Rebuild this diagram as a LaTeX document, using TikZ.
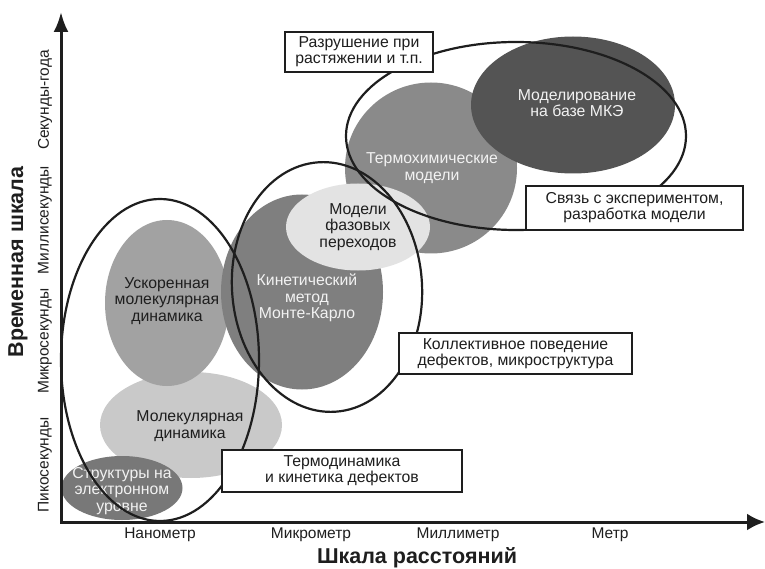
\documentclass[tikz,border=0pt]{standalone}
\usepackage{fontspec}
\setmainfont{Liberation Sans}
\usetikzlibrary{shapes.geometric,arrows.meta}

\definecolor{gElec}{HTML}{787878}
\definecolor{gMD}{HTML}{C9C9C9}
\definecolor{gAMD}{HTML}{A2A2A2}
\definecolor{gKMC}{HTML}{7F7F7F}
\definecolor{gPhase}{HTML}{E3E3E3}
\definecolor{gThermo}{HTML}{8A8A8A}
\definecolor{gFEM}{HTML}{545454}
\definecolor{ink}{HTML}{1E1E1E}
\definecolor{light}{HTML}{F2F2F2}

\tikzset{
  blob/.style={ellipse, draw=none, inner sep=0pt},
  ring/.style={ellipse, draw=ink, line width=2.2pt, inner sep=0pt},
  darktxt/.style={align=center, text=ink, inner sep=0pt,
    font=\fontsize{15.8}{16.5}\selectfont},
  lighttxt/.style={darktxt, text=light},
  tag/.style={draw=ink, fill=white, line width=1.2pt, inner sep=0pt,
    align=center, text=ink, font=\fontsize{15.8}{16}\selectfont},
  scaletxt/.style={text=ink, inner sep=0pt, font=\fontsize{15.5}{17}\selectfont},
  axistitle/.style={text=ink, inner sep=0pt, font=\bfseries\fontsize{21.5}{23}\selectfont},
  axis/.style={draw=ink, line width=3pt, line join=miter},
}

\begin{document}
\begin{tikzpicture}[x=1pt, y=-1pt]
\useasboundingbox (0,0) rectangle (765,569);

% filled model regions
\node[blob, fill=gMD, minimum width=182pt, minimum height=106pt] (md) at (191,425) {};
\node[blob, fill=gAMD, minimum width=124pt, minimum height=166pt] (amd) at (167,303) {};
\node[blob, fill=gElec, minimum width=121pt, minimum height=64pt] (elec) at (122,488) {};
\node[blob, fill=gKMC, minimum width=162pt, minimum height=195pt] (kmc) at (302,292) {};
\node[blob, fill=gThermo, minimum width=172pt, minimum height=171pt] (thermo) at (431,168) {};
\node[blob, fill=gPhase, minimum width=144pt, minimum height=87pt] (phase) at (358,227) {};
\node[blob, fill=gFEM, minimum width=204pt, minimum height=137pt] (fem) at (573,105) {};

% region labels
\node[darktxt] (md-t) at (190,426) {Молекулярная\\динамика};
\node[darktxt] (amd-t) at (167,301) {Ускоренная\\молекулярная\\динамика};
\node[lighttxt] (elec-t) at (122,491) {Структуры на\\электронном\\уровне};
\node[lighttxt] (kmc-t) at (307,298) {Кинетический\\метод\\Монте-Карло};
\node[lighttxt] (thermo-t) at (432,168) {Термохимические\\модели};
\node[darktxt] (phase-t) at (358,227) {Модели\\фазовых\\переходов};
\node[lighttxt] (fem-t) at (577,103) {Моделирование\\на базе МКЭ};

% outlined groups
\node[ring, minimum width=198pt, minimum height=322pt] (grpA) at (160,360) {};
\node[ring, minimum width=190pt, minimum height=250pt, rotate=4] (grpB) at (327,287) {};
\node[ring, minimum width=340pt, minimum height=188pt] (grpC) at (516,136) {};

% group captions
\node[tag, minimum width=148pt, minimum height=40pt] (brk) at (359,52) {Разрушение при\\растяжении и т.п.};
\node[tag, minimum width=217pt, minimum height=44pt] (exp) at (634.5,208) {Связь с экспериментом,\\разработка модели};
\node[tag, minimum width=233pt, minimum height=41pt] (col) at (515.5,353.5) {Коллективное поведение\\дефектов, микроструктура};
\node[tag, minimum width=240pt, minimum height=42pt] (thd) at (342,471) {Термодинамика\\и кинетика дефектов};

% axes
\coordinate (ytip) at (61,12);
\coordinate (xtip) at (765,522);
\draw[axis, {Latex[length=20pt,width=15pt]}-{Latex[length=18pt,width=17pt]}] (ytip) |- (xtip);

% length scale
\node[scaletxt] (nm) at (160,535) {Нанометр};
\node[scaletxt] (um) at (311,535) {Микрометр};
\node[scaletxt] (mm) at (458,535) {Миллиметр};
\node[scaletxt] (m) at (610,535) {Метр};
\node[axistitle] (xlab) at (417,558) {Шкала расстояний};

% time scale
\node[scaletxt, rotate=90] (ps) at (45,465) {Пикосекунды};
\node[scaletxt, rotate=90] (mus) at (45,341) {Микросекунды};
\node[scaletxt, rotate=90] (ms) at (45,220) {Миллисекунды};
\node[scaletxt, rotate=90] (yr) at (45,100) {Секунды-года};
\node[axistitle, rotate=90] (ylab) at (18,262) {Временная шкала};
\end{tikzpicture}
\end{document}
